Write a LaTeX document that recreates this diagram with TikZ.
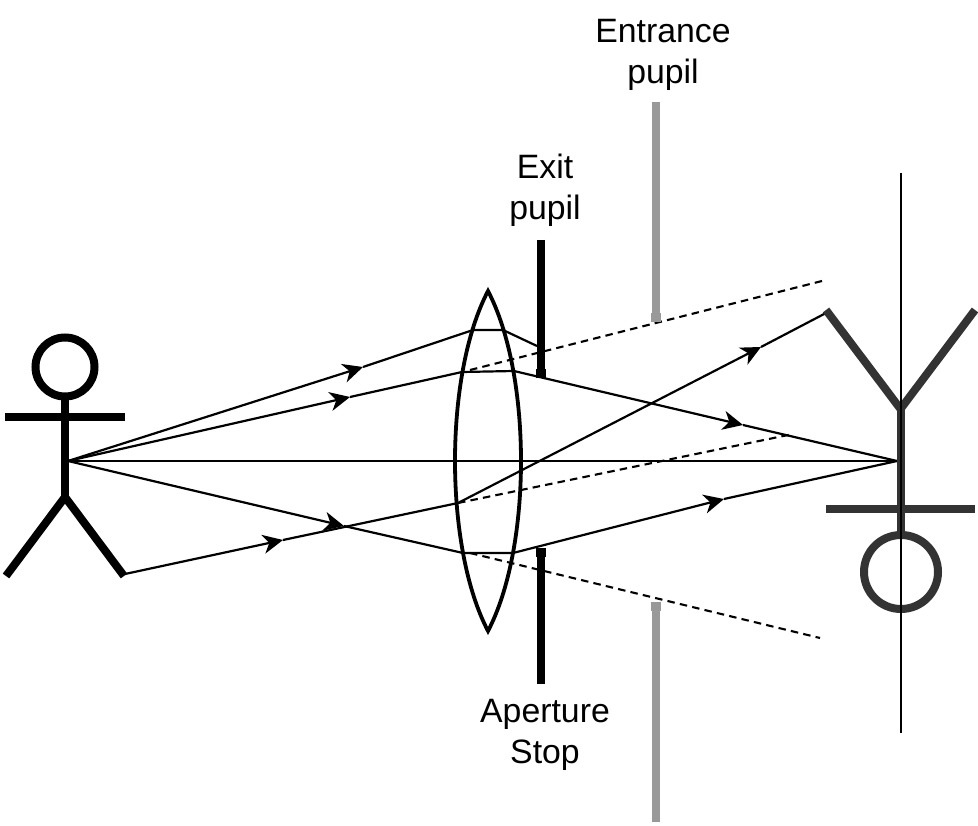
\documentclass[tikz,border=0pt]{standalone}
\usepackage{fontspec}
\setmainfont{Liberation Sans}
\usetikzlibrary{arrows.meta}

\begin{document}
\begin{tikzpicture}[x=1pt, y=-1pt,
  ray/.style = {draw=black, line width=2.2pt},
  arrowray/.style = {ray, -{Stealth[length=20pt, width=19pt, inset=6pt]}},
  virtual/.style = {draw=black, line width=2.1pt, dash pattern=on 7.5pt off 5.2pt},
  lens/.style = {draw=black, line width=3.8pt, line join=miter},
  stopbar/.style = {draw=black, line width=8.6pt},
  stopend/.style = {fill=black, minimum width=10.5pt, minimum height=9pt, inner sep=0pt},
  pupilbar/.style = {draw=black!40, line width=8.3pt},
  pupilend/.style = {fill=black!40, minimum width=10.5pt, minimum height=9pt, inner sep=0pt},
  stick/.style = {draw=black, line width=8pt},
  image/.style = {draw=black!80, line width=8pt},
  head/.style = {circle, draw=black, line width=8pt, minimum size=59pt, inner sep=0pt},
  imagehead/.style = {circle, draw=black!80, line width=8pt, minimum size=74pt, inner sep=0pt},
  label/.style = {align=center, inner sep=0pt, font=\fontsize{33.8}{41}\selectfont}]
\useasboundingbox (0,0) rectangle (978,826);

\coordinate (src) at (68,461);
\coordinate (img) at (897,461);
\coordinate (a1) at (363,367);
\coordinate (a2) at (350,397);
\coordinate (a3) at (344,526);
\coordinate (a4) at (283,540);
\coordinate (b1) at (743,425);
\coordinate (b2) at (724,499);
\coordinate (b3) at (761,347);
\coordinate (l1) at (473,330);
\coordinate (r1) at (503,330);
\coordinate (s1) at (537,346);
\coordinate (l2) at (462,372);
\coordinate (r2) at (514,371);
\coordinate (l3) at (463,553);
\coordinate (r3) at (513,553);
\coordinate (l4) at (458,503);
\coordinate (foot) at (125,574);
\coordinate (tip) at (826,313);
\coordinate (d1) at (470,370);
\coordinate (e1) at (822,281);
\coordinate (e2) at (793,434);
\coordinate (d3) at (470,553);
\coordinate (e3) at (820,638);
\coordinate (lenstop) at (488,291);
\coordinate (lensbot) at (488,631);

\draw[virtual] (d1) -- (e1);
\draw[virtual] (l4) -- (e2);
\draw[virtual] (d3) -- (e3);

\draw[arrowray] (src) -- (a1);
\draw[ray] (a1) -- (l1) -- (r1) -- (s1);
\draw[arrowray] (src) -- (a2);
\draw[ray] (a2) -- (l2) -- (r2);
\draw[arrowray] (r2) -- (b1);
\draw[ray] (b1) -- (img);
\draw[ray] (src) -- (img);
\draw[arrowray] (src) -- (a3);
\draw[ray] (a3) -- (l3) -- (r3);
\draw[arrowray] (r3) -- (b2);
\draw[ray] (b2) -- (img);
\draw[arrowray] (foot) -- (a4);
\draw[ray] (a4) -- (l4);
\draw[arrowray] (l4) -- (b3);
\draw[ray] (b3) -- (tip);

\draw[lens] (lenstop) .. controls (444,375) and (444,547) .. (lensbot)
  .. controls (532,547) and (532,375) .. (lenstop) -- cycle;

\coordinate (stoptop) at (541,240);
\coordinate (stopbot) at (541,684);
\node[stopend] (stopa) at (541,374) {};
\node[stopend] (stopb) at (541,552) {};
\draw[stopbar] (stoptop) -- (stopa);
\draw[stopbar] (stopb) -- (stopbot);

\coordinate (pupiltop) at (656,102);
\coordinate (pupilbot) at (656,822);
\node[pupilend] (pupila) at (656,318) {};
\node[pupilend] (pupilb) at (656,606) {};
\draw[pupilbar] (pupiltop) -- (pupila);
\draw[pupilbar] (pupilb) -- (pupilbot);

\node[head] (objhead) at (65,367) {};
\coordinate (hip) at (65,497);
\coordinate (larm) at (5,417);
\coordinate (rarm) at (125,417);
\coordinate (lfoot) at (6,576);
\coordinate (rfoot) at (124,576);
\draw[stick] (objhead) -- (hip);
\draw[stick] (larm) -- (rarm);
\draw[stick, line join=miter] (lfoot) -- (hip) -- (rfoot);

\node[imagehead] (imghead) at (901,572) {};
\coordinate (fork) at (900.5,409);
\coordinate (lhand) at (826,310);
\coordinate (rhand) at (975,310);
\coordinate (arml) at (826,509);
\coordinate (armr) at (975,509);
\coordinate (neck) at (900.5,534);
\draw[image, line join=miter] (lhand) -- (fork) -- (rhand);
\draw[image] (fork) -- (neck);
\draw[image] (arml) -- (armr);

\coordinate (axistop) at (901,173);
\coordinate (axisbot) at (901,733);
\draw[ray] (axistop) -- (axisbot);

\node[label] (entrance) at (663,55) {Entrance\\pupil};
\node[label] (exit) at (545,190) {Exit\\pupil};
\node[label] (aperture) at (545,734.5) {Aperture\\Stop};
\end{tikzpicture}
\end{document}
